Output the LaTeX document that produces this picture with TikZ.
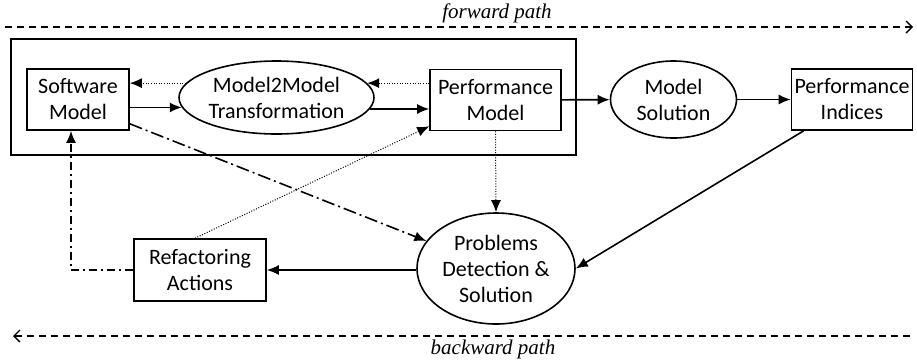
\documentclass[tikz,border=0pt]{standalone}
\usepackage{fontspec}
\setmainfont{Carlito}
\newfontfamily\pathfont{Liberation Serif}
\usetikzlibrary{arrows.meta,shapes.geometric}
\begin{document}
\begin{tikzpicture}[x=1pt,y=-1pt,
    line width=1.6pt,
    font=\fontsize{22}{26}\selectfont,
    box/.style={draw,rectangle,align=center,inner sep=0pt},
    oval/.style={draw,ellipse,align=center,inner sep=0pt},
    tip/.style={-{Latex[length=12pt,width=10pt]}},
    pathtip/.tip={Straight Barb[length=6pt,width=12pt,line width=1.3pt]},
    pathline/.style={line width=1.3pt,dash pattern=on 7pt off 5pt},
    pathlabel/.style={font=\pathfont\itshape\fontsize{21}{24}\selectfont},
    dashdot/.style={dash pattern=on 13pt off 4pt on 2pt off 4pt},
    dots/.style={line width=1pt,dash pattern=on 1pt off 1.6pt}]
        \useasboundingbox (0,0) rectangle (917,360);

        % forward / backward path
        \coordinate (fwdL) at (5,27);
        \coordinate (fwdR) at (913,27);
        \coordinate (bwdL) at (13,336);
        \coordinate (bwdR) at (912,336);
        \draw[pathline,-pathtip] (fwdL) -- (fwdR);
        \draw[pathline,pathtip-] (bwdL) -- (bwdR);
        \node (fwd) at (497,13) [pathlabel] {forward path};
        \node (bwd) at (493,349) [pathlabel] {backward path};

        % frame round the transformation
        \draw (11,39) rectangle (576,155);

        \node (sm) at (78,99.5) [box,minimum width=102pt,minimum height=61pt] {Software\\Model};
        \node (m2m) at (276.5,97.5) [oval,minimum width=195pt,minimum height=73pt] {Model2Model\\Transformation};
        \node (pm) at (495.5,100) [box,minimum width=131pt,minimum height=61pt] {Performance\\Model};
        \node (ms) at (673.5,99.5) [oval,minimum width=126pt,minimum height=77pt] {Model\\Solution};
        \node (pi) at (852,99.5) [box,minimum width=121pt,minimum height=61pt] {Performance\\Indices};
        \node (pds) at (496,268.5) [oval,minimum width=158pt,minimum height=111pt] {Problems\\Detection \&\\Solution};
        \node (ra) at (200,270) [box,minimum width=132pt,minimum height=62pt] {Refactoring\\Actions};

        \draw[tip] (sm.east |- m2m.186) -- (m2m.186);
        \draw[dots,tip] (m2m.171) -- (sm.east |- m2m.171);
        \draw[tip] (m2m.-7) -- (pm.west |- m2m.-7);
        \draw[dots,tip] (pm.west |- m2m.9) -- (m2m.9);
        \draw[tip] (pm) -- (ms);
        \draw[tip] (ms) -- (pi);
        \draw[tip] ([xshift=13pt]pi.south west) -- (pds.east);
        \draw[dots,tip] (pm.south) -- (pds.north);
        \draw[dashdot,tip] ([yshift=7pt]sm.south east) -- (pds);
        \draw[dots,tip] ([xshift=-5pt]ra.north) -- ([yshift=5pt]pm.south west);
        \draw[tip] (pds.west |- ra.east) -- (ra.east);
        \draw[dash pattern=on 8pt off 4pt on 2pt off 4pt,tip] (ra.west) -| ([xshift=-7pt]sm.south);
\end{tikzpicture}
\end{document}
